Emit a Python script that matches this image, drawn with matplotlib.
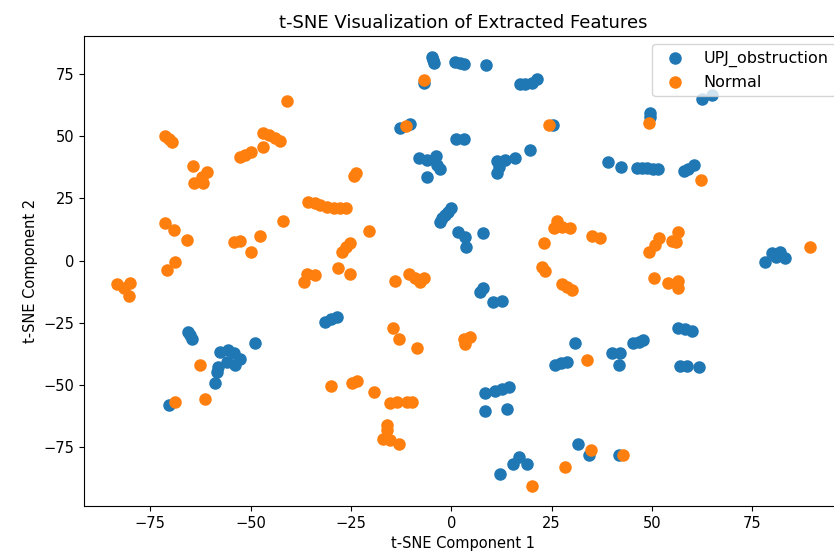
import numpy as np
import matplotlib
matplotlib.use("Agg")
from matplotlib import pyplot as plt

# --- t-SNE coordinates ---
upj_x = [-4.8, -4.5, -4.2, 1.0, 2.2, 3.2, 8.6,
         17.2, 18.5, 20.1, 21.4, -6.7, -12.7, -10.2, 25.3, 1.2, 3.2, 19.7,
         -8.1, -6.0, -3.7, -2.7, -3.5, -6.1,
         11.4, 13.5, 15.9, 11.4, 12.0,
         62.5, 65.1, 49.6, 49.6,
         39.0, 42.3, 46.4, 47.5, 48.8, 50.2, 51.4, 57.9, 59.0, 60.4,
         -2.9, -2.2, -1.5, -0.8, -0.1, 1.8, 3.5, 3.7, 8.0,
         7.1, 8.0, 10.5, 12.6,
         78.2, 79.9, 82.0, 83.2, 81.0,
         -65.5, -65.0, -64.6, -48.8, -31.4, -30.0, -28.5,
         -57.6, -55.5, -54.2, -52.6, -53.8, -55.9, -58.4, -58.0, -58.8,
         -70.2,
         30.9, 25.9, 27.3, 28.8,
         40.0, 42.1, 41.9, 45.4, 46.7, 47.9,
         56.6, 58.3, 60.0, 57.1, 58.7, 61.8,
         8.5, 11.0, 12.6, 14.3, 8.5, 13.9,
         31.7, 34.4, 15.5, 16.8, 18.9, 12.2, 41.7]
upj_y = [82.0, 80.5, 79.3, 79.7, 79.5, 79.1, 78.5,
         70.8, 71.0, 71.2, 72.9, 71.2, 53.4, 54.8, 54.6, 48.9, 48.9, 44.4,
         41.3, 40.5, 42.0, 36.7, 38.5, 33.7,
         40.0, 40.5, 41.1, 35.3, 37.5,
         64.8, 66.5, 59.2, 57.6,
         39.6, 37.7, 37.3, 37.2, 37.1, 37.0, 36.7, 36.0, 37.0, 38.4,
         15.6, 17.0, 18.3, 19.6, 21.0, 11.6, 9.6, 5.5, 10.9,
         -12.8, -11.2, -16.8, -16.3,
         -0.5, 2.9, 3.5, 0.9, 1.5,
         -28.6, -30.0, -31.6, -33.3, -24.6, -23.7, -22.6,
         -36.7, -36.0, -37.3, -39.7, -42.0, -40.7, -44.7, -42.7, -49.4,
         -58.1,
         -33.3, -42.0, -41.3, -40.7,
         -37.1, -37.1, -42.0, -33.3, -32.6, -32.0,
         -27.3, -27.7, -28.2, -42.4, -42.4, -42.9,
         -53.2, -52.4, -51.7, -51.0, -60.4, -59.7,
         -73.8, -78.2, -81.8, -79.1, -81.8, -86.0, -78.2]

normal_x = [-71.3, -70.4, -69.5, -40.9,
            -64.4, -60.9, -62.1, -64.2, -61.9,
            -52.6, -51.5, -49.9, -46.8, -45.4, -44.0, -42.6, -46.8,
            -6.7, -11.2, 24.3, -24.2, -23.6, 49.3, 62.2,
            -71.3, -69.0, -65.9, -68.8, -70.8,
            -83.3, -80.0, -81.5, -80.4,
            -54.2, -52.6, -47.6, -49.9, -41.8,
            -35.6, -34.0, -32.6, -31.0, -29.3, -27.7, -26.2,
            -36.8, -36.0, -33.9, -28.1, -25.2, -27.2, -26.3, -25.2, -20.6,
            -14.0, -10.6, -9.0, -7.7, -6.7,
            -14.4, -12.9, -8.5, 3.1, 4.7, 3.5,
            26.3, 25.5, 27.5, 29.7, 23.0, 22.6, 23.4, 27.6, 28.8, 30.1,
            35.1, 37.1, 51.8, 50.8, 49.4, 56.4, 56.1, 55.0,
            50.6, 53.9, 56.4, 56.5, 89.5,
            -62.7, -61.3, -68.8, -30.0, -24.8, -23.5, -19.2,
            -15.2, -13.5, -11.0, -9.8,
            -15.9, -15.9, -17.0, -15.2, -13.1,
            33.8, 28.4, 20.1, 34.8, 42.9]
normal_y = [50.1, 48.8, 47.6, 64.1,
            38.1, 35.7, 33.7, 31.0, 31.0,
            41.5, 42.3, 43.7, 51.1, 50.3, 49.4, 48.2, 45.5,
            72.6, 54.1, 54.6, 34.0, 35.0, 55.2, 32.4,
            15.2, 12.3, 8.2, -0.5, -3.8,
            -9.4, -8.9, -11.0, -14.3,
            7.3, 7.8, 9.9, 3.5, 16.0,
            23.4, 23.0, 22.3, 21.5, 21.0, 21.0, 21.0,
            -8.5, -5.5, -5.8, -3.1, -5.5, 3.5, 5.5, 7.2, 11.9,
            -8.2, -5.5, -7.0, -8.5, -7.2,
            -27.0, -31.6, -35.3, -31.7, -30.6, -33.7,
            15.9, 12.9, 13.5, 12.9, 6.9, -2.5, -4.2, -9.6, -10.8, -11.9,
            10.0, 8.9, 9.2, 6.2, 3.5, 11.6, 7.3, 7.8,
            -7.2, -8.9, -8.2, -10.9, 5.3,
            -42.0, -55.8, -56.8, -50.5, -49.1, -48.3, -52.8,
            -57.2, -56.8, -56.8, -56.8,
            -66.1, -68.2, -71.8, -72.2, -73.9,
            -40.0, -82.9, -90.5, -76.2, -78.2]

fig = plt.figure(figsize=(8.34, 5.51), dpi=100)
# axes runs a bit past the right edge, as in the cropped reference
ax = fig.add_axes([0.1007, 0.0817, 0.910, 0.853])

ax.scatter(upj_x, upj_y, s=64, color='#1f77b4', label='UPJ_obstruction')
ax.scatter(normal_x, normal_y, s=64, color='#ff7f0e', label='Normal')

ax.set_xlim(-91.5, 97.6)
ax.set_ylim(-98.7, 90.3)
ax.set_xticks([-75, -50, -25, 0, 25, 50, 75])
ax.set_yticks([-75, -50, -25, 0, 25, 50, 75])
ax.tick_params(labelsize=10.5)

ax.set_title('t-SNE Visualization of Extracted Features', fontsize=13)
ax.set_xlabel('t-SNE Component 1', fontsize=10.5)
ax.set_ylabel('t-SNE Component 2', fontsize=10.5)
ax.legend(loc='upper right', fontsize=11.5)

fig.savefig('out.png', dpi=100)
